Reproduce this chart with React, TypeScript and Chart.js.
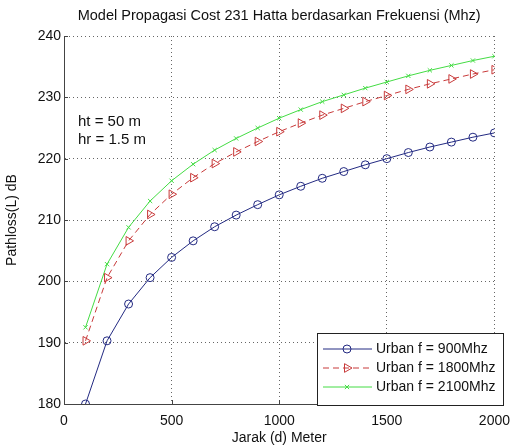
import React, { useEffect, useRef } from "react";
import { Chart, registerables } from "chart.js";
import { drawPoint } from "chart.js/helpers";

Chart.register(...registerables);

const distances = [100, 200, 300, 400, 500, 600, 700, 800, 900, 1000, 1100, 1200, 1300, 1400, 1500, 1600, 1700, 1800, 1900, 2000];
const urban900 = [180.0, 190.3, 196.3, 200.6, 203.9, 206.6, 208.9, 210.8, 212.5, 214.1, 215.5, 216.8, 217.9, 219.0, 220.0, 221.0, 221.9, 222.7, 223.5, 224.2];
const urban1800 = [190.3, 200.6, 206.6, 210.9, 214.2, 216.9, 219.2, 221.1, 222.8, 224.4, 225.8, 227.1, 228.2, 229.3, 230.3, 231.3, 232.2, 233.0, 233.8, 234.5];
const urban2100 = [192.5, 202.8, 208.8, 213.1, 216.4, 219.1, 221.4, 223.3, 225.0, 226.6, 228.0, 229.3, 230.4, 231.5, 232.5, 233.5, 234.4, 235.2, 236.0, 236.7];
const seriesLabels = ["Urban f = 900Mhz", "Urban f = 1800Mhz", "Urban f = 2100Mhz"];
const xTicks = [0, 500, 1000, 1500, 2000];
const yTicks = [180, 190, 200, 210, 220, 230, 240];
const titleText = "Model Propagasi Cost 231 Hatta berdasarkan Frekuensi (Mhz)";
const xTitle = "Jarak (d) Meter";
const yTitle = "Pathloss(L) dB";
const notes = ["ht = 50 m", "hr = 1.5 m"];

const FONT = "Liberation Sans, Arial, Helvetica, sans-serif";
const BLUE = "#232a82";
const RED = "#c83a3a";
const GREEN = "#44dc44";

const styles = [
  { color: BLUE, pointStyle: "circle", radius: 4, rotation: 0, dash: [] as number[] },
  { color: RED, pointStyle: "triangle", radius: 5, rotation: 90, dash: [6, 4] },
  { color: GREEN, pointStyle: "crossRot", radius: 3, rotation: 0, dash: [] as number[] },
];

const innerTicks = {
  id: "innerTicks",
  afterDatasetsDraw(chart: any) {
    const ctx = chart.ctx;
    const ca = chart.chartArea;
    const xs = chart.scales.x;
    const ys = chart.scales.y;
    ctx.save();
    ctx.strokeStyle = "#444";
    ctx.lineWidth = 1;
    ctx.beginPath();
    for (const v of yTicks) {
      const y = Math.round(ys.getPixelForValue(v)) + 0.5;
      ctx.moveTo(ca.left, y);
      ctx.lineTo(ca.left + 4, y);
    }
    for (const v of xTicks) {
      const x = Math.round(xs.getPixelForValue(v)) + 0.5;
      ctx.moveTo(x, ca.bottom);
      ctx.lineTo(x, ca.bottom - 4);
    }
    ctx.stroke();
    ctx.restore();
  },
};

const textPlugin = {
  id: "textPlugin",
  afterDraw(chart: any) {
    const ctx = chart.ctx;
    const ca = chart.chartArea;
    ctx.save();
    ctx.fillStyle = "#111";
    ctx.textAlign = "center";
    ctx.textBaseline = "middle";
    ctx.font = `14.5px ${FONT}`;
    ctx.fillText(titleText, (ca.left + ca.right) / 2, 16);
    ctx.font = `14px ${FONT}`;
    ctx.fillText(xTitle, (ca.left + ca.right) / 2, 438);
    ctx.save();
    ctx.translate(12, (ca.top + ca.bottom) / 2);
    ctx.rotate(-Math.PI / 2);
    ctx.fillText(yTitle, 0, 0);
    ctx.restore();
    ctx.textAlign = "left";
    ctx.font = `15px ${FONT}`;
    ctx.fillText(notes[0], 78, 122);
    ctx.fillText(notes[1], 78, 140);

    // legend box
    ctx.font = `14px ${FONT}`;
    const lx = 317, ly = 333, lw = 186, lh = 72;
    ctx.fillStyle = "#fff";
    ctx.fillRect(lx, ly, lw, lh);
    ctx.strokeStyle = "#222";
    ctx.lineWidth = 1;
    ctx.strokeRect(lx + 0.5, ly + 0.5, lw, lh);
    for (let i = 0; i < 3; i++) {
      const s = styles[i];
      const yy = ly + 16 + i * 19;
      ctx.strokeStyle = s.color;
      ctx.lineWidth = 1;
      ctx.setLineDash(s.dash);
      ctx.beginPath();
      ctx.moveTo(lx + 6, yy);
      ctx.lineTo(lx + 55, yy);
      ctx.stroke();
      ctx.setLineDash([]);
      ctx.fillStyle = "rgba(0,0,0,0)";
      drawPoint(ctx, { pointStyle: s.pointStyle, radius: s.radius, rotation: s.rotation, borderWidth: 1 } as any, lx + 30, yy);
      ctx.fillStyle = "#111";
      ctx.fillText(seriesLabels[i], lx + 59, yy);
    }
    ctx.restore();
  },
};

export default function App() {
  const ref = useRef<HTMLCanvasElement>(null);
  useEffect(() => {
    const datasets = [urban900, urban1800, urban2100].map((vals, i) => ({
      label: seriesLabels[i],
      data: vals.map((v, j) => ({ x: distances[j], y: v })),
      borderColor: styles[i].color,
      backgroundColor: "transparent",
      borderWidth: 1,
      borderDash: styles[i].dash,
      pointStyle: styles[i].pointStyle,
      pointRadius: styles[i].radius,
      pointRotation: styles[i].rotation,
      pointBorderColor: styles[i].color,
      pointBackgroundColor: "transparent",
      pointBorderWidth: 1,
      tension: 0,
    }));
    const chart = new Chart(ref.current!, {
      type: "line",
      data: { datasets },
      plugins: [innerTicks, textPlugin],
      options: {
        animation: false,
        responsive: false,
        layout: { padding: { top: 36, right: 16, left: 0, bottom: 0 } },
        plugins: { legend: { display: false }, title: { display: false }, tooltip: { enabled: false } },
        scales: {
          x: {
            type: "linear",
            min: 0,
            max: 2000,
            afterFit: (s: any) => { s.height = 44; },
            afterBuildTicks: (s: any) => { s.ticks = xTicks.map((v) => ({ value: v })); },
            border: { display: true, color: "#444", width: 1, dash: [1, 3] },
            grid: { color: "#666", lineWidth: 1, drawTicks: false },
            ticks: { color: "#111", padding: 9, font: { family: FONT, size: 14 }, maxRotation: 0, callback: (v: any) => String(v) },
          },
          y: {
            type: "linear",
            min: 180,
            max: 240,
            afterFit: (s: any) => { s.width = 64; },
            afterBuildTicks: (s: any) => { s.ticks = yTicks.map((v) => ({ value: v })); },
            border: { display: true, color: "#444", width: 1, dash: [1, 3] },
            grid: { color: "#666", lineWidth: 1, drawTicks: false },
            ticks: { color: "#111", padding: 3, font: { family: FONT, size: 14 }, callback: (v: any) => String(v) },
          },
        },
      },
    });
    return () => chart.destroy();
  }, []);
  return (
    <div style={{ position: "fixed", left: 0, top: 0, width: 519, height: 448, background: "#fff" }}>
      <canvas ref={ref} width={519} height={448} style={{ width: 519, height: 448 }} />
    </div>
  );
}
